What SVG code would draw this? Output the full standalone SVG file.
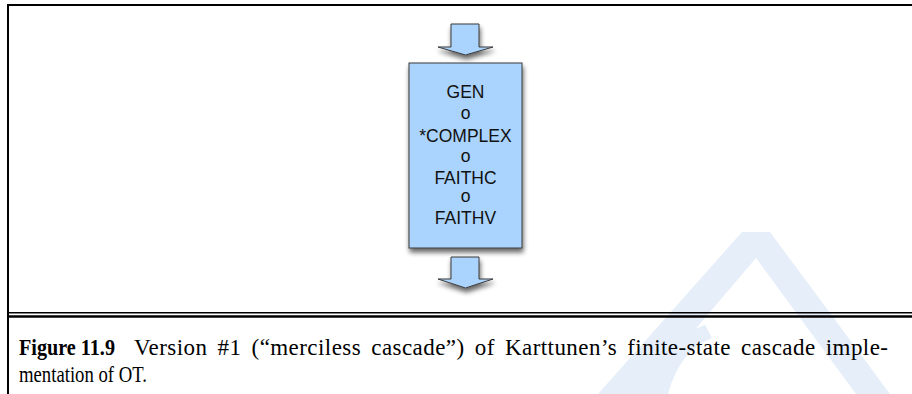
<svg xmlns="http://www.w3.org/2000/svg" width="912" height="394" viewBox="0 0 912 394">
<defs>
<style>
.frame{stroke:#000;fill:none}
.blue{fill:#aad4fd;stroke:#3a3a3a;stroke-width:1}
.lbl{font-family:"Liberation Sans",Arial,sans-serif;font-size:17.5px;fill:#111;text-anchor:middle}
.cap{font-family:"Liberation Serif","Times New Roman",serif;font-size:23px;fill:#000}
</style>
<filter id="sh" x="-20%" y="-20%" width="150%" height="150%">
<feGaussianBlur in="SourceAlpha" stdDeviation="2.5"/>
<feOffset dx="1" dy="4" result="b"/>
<feComponentTransfer><feFuncA type="linear" slope="0.6"/></feComponentTransfer>
<feMerge><feMergeNode/><feMergeNode in="SourceGraphic"/></feMerge>
</filter>
</defs>
<rect width="912" height="394" fill="#fff"/>
<g id="watermark" fill="#e6eefa">
<polygon points="742,232 770,232 890,394 856,394 756,258 640,394 598,394"/>
<path d="M640,394 Q660,340 705,325 L712,338 Q680,350 668,394 Z"/>
</g>
<g id="frame">
<line class="frame" x1="7" y1="5" x2="912" y2="5" stroke-width="2.2"/>
<line class="frame" x1="8" y1="4" x2="8" y2="394" stroke-width="2"/>
<line class="frame" x1="8" y1="312.8" x2="912" y2="312.8" stroke-width="1.6"/>
<line class="frame" x1="8" y1="316.5" x2="912" y2="316.5" stroke-width="2.6"/>
</g>
<g id="connectors">
<polygon id="arrow-in" class="blue" filter="url(#sh)" points="451,24 479,24 479,47 493,47 465.5,55 438,47 451,47"/>
<polygon id="arrow-out" class="blue" filter="url(#sh)" points="451,257 479,257 479,279 493,279 465.5,288 438,279 451,279"/>
</g>
<g id="cascade">
<rect class="blue" filter="url(#sh)" x="409" y="63" width="113" height="185"/>
<text class="lbl" x="465.5" y="98">GEN</text>
<text class="lbl" x="465.5" y="118.5">o</text>
<text class="lbl" x="465.5" y="141.5">*COMPLEX</text>
<text class="lbl" x="465.5" y="162">o</text>
<text class="lbl" x="465.5" y="183.5">FAITHC</text>
<text class="lbl" x="465.5" y="202">o</text>
<text class="lbl" x="465.5" y="224">FAITHV</text>
</g>
<g id="caption">
<text class="cap" x="19" y="355" textLength="96" lengthAdjust="spacingAndGlyphs" font-weight="bold">Figure 11.9</text>
<text class="cap" x="134" y="355" textLength="754" lengthAdjust="spacing" word-spacing="4">Version #1 (“merciless cascade”) of Karttunen’s finite-state cascade imple-</text>
<text class="cap" x="19" y="382" textLength="128" lengthAdjust="spacingAndGlyphs">mentation of OT.</text>
</g>
</svg>
